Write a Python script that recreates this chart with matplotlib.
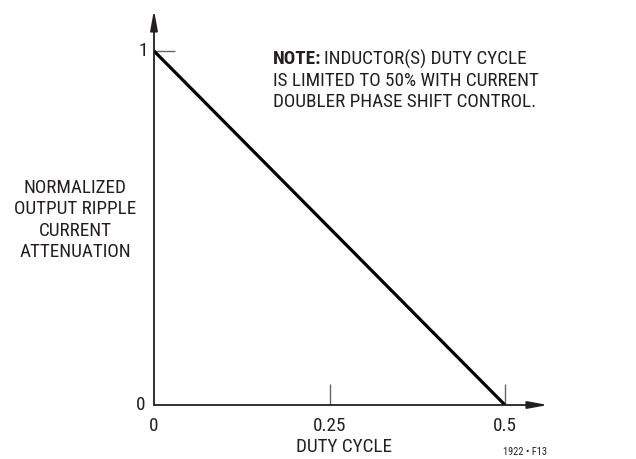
import matplotlib
matplotlib.use('Agg')
import matplotlib.pyplot as plt
from matplotlib import font_manager

# data
duty = [0.0, 0.5]
atten = [1.0, 0.0]
xticks = [0.25, 0.5]
xticklabels = ['0', '0.25', '0.5']
yticks = [1.0]

names = {f.name for f in font_manager.fontManager.ttflist}
fam = [n for n in ['Roboto Condensed', 'Archivo Narrow', 'PT Sans Narrow'] if n in names][:1]
plt.rcParams['font.family'] = fam + ['DejaVu Sans']
ink = '#231f20'

W, H = 636, 459
fig = plt.figure(figsize=(W / 100, H / 100), dpi=100)
x0, y0, x1, y1 = 154, 405, 548, 10
ax = fig.add_axes([x0 / W, 1 - y0 / H, (x1 - x0) / W, (y0 - y1) / H])
xmax = 0.5 * (x1 - x0) / (505 - x0)
ymax = (y0 - y1) / (y0 - 51)
ax.set_xlim(0, xmax)
ax.set_ylim(0, ymax)
ax.axis('off')

# axes with arrows
arr = dict(arrowstyle='-|>,head_length=1.2,head_width=0.22', color=ink, lw=1.3,
           shrinkA=0, shrinkB=0)
ax.annotate('', xy=(xmax, 0), xytext=(0, 0), arrowprops=arr, annotation_clip=False)
ax.annotate('', xy=(0, ymax), xytext=(0, 0), arrowprops=arr, annotation_clip=False)

# tick marks
tlen_y = 21 / (y0 - 51)
tlen_x = 21 / (505 - x0) * 0.5
for t in xticks:
    ax.plot([t, t], [0, tlen_y], color='#666666', lw=1.0, solid_capstyle='butt')
for t in yticks:
    ax.plot([0, tlen_x], [t, t], color='#666666', lw=1.0, solid_capstyle='butt')

ax.plot(duty, atten, color='black', lw=2.3, solid_capstyle='butt')

fs = 13.8
for t, lab in zip([0.0] + xticks, xticklabels):
    ax.text(t, -21 / (y0 - 51), lab, ha='center', va='center', fontsize=fs, color=ink)
ax.text(-11 / (505 - x0) * 0.5, 1.0, '1', ha='center', va='center', fontsize=fs, color=ink)
ax.text(-13 / (505 - x0) * 0.5, 0.0, '0', ha='center', va='center', fontsize=fs, color=ink)

fig.text(344 / W, 1 - 447 / H, 'DUTY CYCLE', ha='center', va='center', fontsize=fs, color=ink)
fig.text(75 / W, 1 - 220 / H, 'NORMALIZED\nOUTPUT RIPPLE\nCURRENT\nATTENUATION',
         ha='center', va='center', fontsize=fs, color=ink, linespacing=1.24)
fig.text(525 / W, 1 - 452 / H, '1922 • F13', ha='center', va='center', fontsize=7.5, color=ink)

# note
note_b = fig.text(273 / W, 1 - 59 / H, 'NOTE:', ha='left', va='center', fontsize=fs,
                  color=ink, fontweight='bold')
fig.canvas.draw()
bb = note_b.get_window_extent()
fig.text((bb.x1 + 3) / W, 1 - 59 / H, 'INDUCTOR(S) DUTY CYCLE', ha='left', va='center',
         fontsize=fs, color=ink)
fig.text(273 / W, 1 - 80.5 / H, 'IS LIMITED TO 50% WITH CURRENT', ha='left', va='center',
         fontsize=fs, color=ink)
fig.text(273 / W, 1 - 102 / H, 'DOUBLER PHASE SHIFT CONTROL.', ha='left', va='center',
         fontsize=fs, color=ink)

fig.savefig('out.png', dpi=100)
